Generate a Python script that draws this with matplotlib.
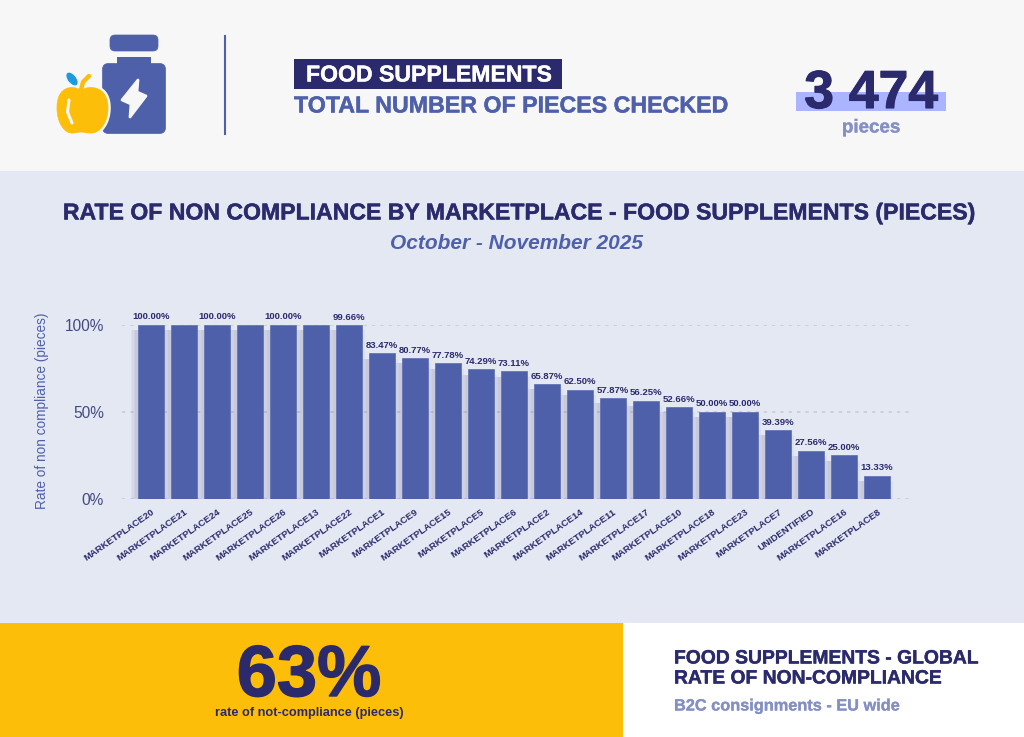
import matplotlib
matplotlib.use("Agg")
import matplotlib.pyplot as plt
import matplotlib.patheffects as pe
from matplotlib.patches import FancyBboxPatch, Polygon, Rectangle, Ellipse, PathPatch
from matplotlib.path import Path

plt.rcParams['font.family'] = ['Liberation Sans', 'DejaVu Sans']

NAVY = '#2A2A6C'
BLUE = '#4F60AB'
LIGHT_BLUE = '#8490C4'
YELLOW = '#FDBE0A'
PANEL = '#E4E8F3'
TOP = '#F7F7F7'

marketplaces = ['MARKETPLACE20', 'MARKETPLACE21', 'MARKETPLACE24', 'MARKETPLACE25', 'MARKETPLACE26',
                'MARKETPLACE13', 'MARKETPLACE22', 'MARKETPLACE1', 'MARKETPLACE9', 'MARKETPLACE15',
                'MARKETPLACE5', 'MARKETPLACE6', 'MARKETPLACE2', 'MARKETPLACE14', 'MARKETPLACE11',
                'MARKETPLACE17', 'MARKETPLACE10', 'MARKETPLACE18', 'MARKETPLACE23', 'MARKETPLACE7',
                'UNIDENTIFIED', 'MARKETPLACE16', 'MARKETPLACE8']
rates = [100.00, 100.00, 100.00, 100.00, 100.00, 100.00, 99.66, 83.47, 80.77, 77.78, 74.29, 73.11,
         65.87, 62.50, 57.87, 56.25, 52.66, 50.00, 50.00, 39.39, 27.56, 25.00, 13.33]
# every second label is missing in the first group of the original
hidden_labels = [1, 3, 5]
y_ticks = [0, 50, 100]

W, H = 1024, 737


def bold(width=0.5, color=None):
    return [pe.withStroke(linewidth=width, foreground=color)]


def draw_background(ax):
    ax.add_patch(Rectangle((0, 0), W, 171, color=TOP, lw=0))
    ax.add_patch(Rectangle((0, 171), W, 452, color=PANEL, lw=0))
    ax.add_patch(Rectangle((0, 623), 623, 114, color=YELLOW, lw=0))
    ax.add_patch(Rectangle((623, 623), W - 623, 114, color='white', lw=0))


def draw_icon(ax):
    ax.add_patch(FancyBboxPatch((110, 35), 48, 16, boxstyle='round,pad=0,rounding_size=5', fc=BLUE, ec=BLUE, lw=0.5))
    ax.add_patch(Rectangle((117, 57), 34, 8, fc=BLUE, lw=0))
    ax.add_patch(FancyBboxPatch((102.5, 63.5), 63, 70, boxstyle='round,pad=0,rounding_size=6', fc=BLUE, ec=BLUE, lw=0.5))
    ax.add_patch(Polygon([[138, 80], [122, 100], [131, 104], [130, 117], [146, 96], [137, 92]],
                         closed=True, fc=TOP, ec=TOP, lw=2, joinstyle='round'))
    # apple body
    apple = Path([(81, 90), (72, 85), (57, 86), (57, 108), (57, 122), (64, 134), (73, 133), (76, 133), (78, 132),
                  (81, 132), (84, 132), (86, 133), (90, 133), (100, 134), (108, 122), (108, 108), (108, 86), (90, 85),
                  (81, 90)],
                 [Path.MOVETO] + [Path.CURVE4] * 18)
    ax.add_patch(PathPatch(apple, fc=YELLOW, ec=TOP, lw=4))
    ax.add_patch(PathPatch(apple, fc=YELLOW, ec=YELLOW, lw=0.5))
    ax.plot([69, 67.5, 72], [100, 112, 123], color=TOP, lw=2.2, solid_capstyle='round')
    ax.plot([81, 83, 89], [90, 82, 76], color=YELLOW, lw=3.2, solid_capstyle='round')
    ax.add_patch(Ellipse((72, 79), 8, 15, angle=-38, fc='#1C9BDD', lw=0))


def draw_texts(ax):
    ax.plot([224.5, 224.5], [36, 134], color=BLUE, lw=1.5)
    ax.add_patch(Rectangle((294, 59), 268, 29.5, fc=NAVY, lw=0))
    ax.text(306, 75, 'FOOD SUPPLEMENTS', color='white', fontsize=16.6, fontweight='bold', va='center',
            path_effects=bold(0.3, 'white'))
    ax.text(294, 106, 'TOTAL NUMBER OF PIECES CHECKED', color=BLUE, fontsize=16.7, fontweight='bold', va='center',
            path_effects=bold(0.3, BLUE))
    ax.add_patch(Rectangle((796, 92), 150, 19, fc='#AAB4FF', lw=0))
    ax.text(871, 94, '3 474', color=NAVY, fontsize=38.5, fontweight='bold', ha='center', va='center',
            path_effects=bold(0.8, NAVY))
    ax.text(871, 128, 'pieces', color=LIGHT_BLUE, fontsize=13.5, fontweight='bold', ha='center', va='center',
            path_effects=bold(0.2, LIGHT_BLUE))

    ax.text(516.5, 213, 'RATE OF NON COMPLIANCE BY MARKETPLACE - FOOD SUPPLEMENTS (PIECES)', color=NAVY,
            fontsize=16.6, fontweight='bold', ha='center', va='center', path_effects=bold(0.3, NAVY))
    ax.text(517, 243, 'October - November 2025', color=BLUE, fontsize=15, fontweight='bold', style='italic',
            ha='center', va='center')

    ax.text(309, 696, '63%', color=NAVY, fontsize=52, fontweight='bold', ha='center', va='baseline',
            path_effects=bold(1.0, NAVY))
    ax.text(309, 713, 'rate of not-compliance (pieces)', color=NAVY, fontsize=9.2, fontweight='bold',
            ha='center', va='center')
    ax.text(674, 659, 'FOOD SUPPLEMENTS - GLOBAL', color=NAVY, fontsize=13.9, fontweight='bold', va='center',
            path_effects=bold(0.3, NAVY))
    ax.text(674, 679, 'RATE OF NON-COMPLIANCE', color=NAVY, fontsize=13.9, fontweight='bold', va='center',
            path_effects=bold(0.3, NAVY))
    ax.text(674, 706, 'B2C consignments - EU wide', color=LIGHT_BLUE, fontsize=11.75, fontweight='bold', va='center',
            path_effects=bold(0.2, LIGHT_BLUE))


def draw_chart(ax):
    x = list(range(len(rates)))
    # soft shadow falling down-left of each bar
    for grow in [0.30, 0.22, 0.14, 0.07]:
        ax.bar([v - 0.07 for v in x], [max(r - 3, 0) for r in rates], width=0.78 + grow, color=NAVY, alpha=0.04,
               lw=0, zorder=2)
    ax.bar(x, rates, width=0.78, color=BLUE, edgecolor='#5C6CB4', lw=0.5, zorder=3)

    ax.set_xlim(-0.879, 23.06)
    ax.set_ylim(0, 100)
    ax.set_yticks(y_ticks)
    ax.set_yticklabels([f'{v}%' for v in y_ticks], color='#444A80', fontsize=11.2)
    ax.set_xticks(x)
    ax.set_xticklabels(marketplaces, rotation=35, ha='right', rotation_mode='anchor', fontsize=6.8,
                       fontweight='bold', color=NAVY)
    ax.tick_params(axis='both', length=0)
    ax.tick_params(axis='x', pad=6)
    ax.tick_params(axis='y', pad=13)
    ax.grid(axis='y', color='#C9CCDD', linestyle=(0, (2, 3)), lw=1.2, zorder=1)
    ax.set_axisbelow(True)
    for spine in ax.spines.values():
        spine.set_visible(False)
    ax.set_ylabel('Rate of non compliance (pieces)', color=BLUE, fontsize=9.8)
    ax.yaxis.set_label_coords(-0.092, 0.507)

    for i, (pos, rate) in enumerate(zip(x, rates)):
        if i in hidden_labels:
            continue
        ax.annotate(f'{rate:.2f}%', (pos, rate), xytext=(0, 2.5), textcoords='offset points', ha='center',
                    va='bottom', fontsize=6.8, fontweight='bold', color=NAVY, clip_on=False)


def main():
    fig = plt.figure(figsize=(W / 100, H / 100), dpi=100)

    back = fig.add_axes([0, 0, 1, 1], zorder=0)
    back.set_xlim(0, W)
    back.set_ylim(H, 0)
    back.axis('off')
    draw_background(back)
    draw_icon(back)
    draw_texts(back)

    chart = fig.add_axes([122 / W, 1 - 499 / H, 790 / W, 174.5 / H], zorder=1)
    chart.patch.set_alpha(0)
    draw_chart(chart)

    fig.savefig('out.png', dpi=100)


if __name__ == '__main__':
    main()
